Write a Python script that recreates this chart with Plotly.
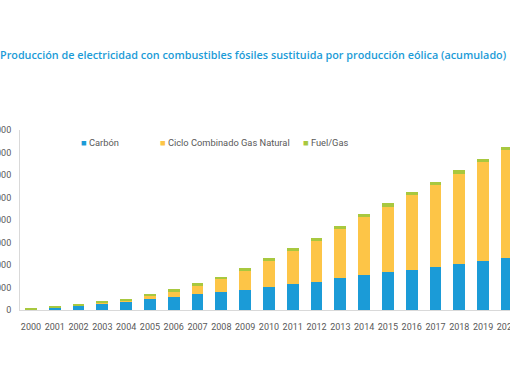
import plotly.graph_objects as go

years = [str(y) for y in range(2000, 2021)]
carbon = [1000, 5500, 9500, 15000, 19000, 24500, 29500, 36000, 40500, 45500, 52000,
          57000, 63000, 71000, 77000, 84000, 89000, 95000, 101500, 109000, 115000]
ccgt = [1000, 700, 900, 1800, 3000, 8000, 12500, 19500, 29000, 42000, 58000,
        74000, 91000, 109500, 129000, 146000, 166000, 183500, 201500, 219000, 240500]
fuel = [700, 900, 1100, 1800, 2200, 3000, 3700, 3900, 4500, 5300, 5600,
        5900, 6100, 6400, 6600, 6700, 6900, 7000, 7200, 7400, 7700]
series_names = ["Carbón", "Ciclo Combinado Gas Natural", "Fuel/Gas"]
series_colors = ["#1b9bd7", "#fdc547", "#a8c83f"]
y_tickvals = [0, 50000, 100000, 150000, 200000, 250000, 300000, 350000, 400000]
y_ticktext = ["0", "50.000", "100.000", "150.000", "200.000", "250.000", "300.000", "350.000", "400.000"]
title_text = "Producción de electricidad con combustibles fósiles sustituida por producción eólica (acumulado)"

fig = go.Figure()
for name, vals, col in zip(series_names, [carbon, ccgt, fuel], series_colors):
    fig.add_trace(go.Bar(x=years, y=vals, name=name, marker=dict(color=col, line=dict(width=0)),
                         width=0.5, showlegend=False))

legend_x = [0.12, 0.282, 0.573]
for name, col, lx in zip(series_names, series_colors, legend_x):
    fig.add_annotation(xref="paper", yref="paper", x=lx, y=0.928, xanchor="left", yanchor="middle",
                       showarrow=False,
                       text=f"<span style='color:{col}'>■</span> {name}",
                       font=dict(family="Roboto", size=9.3, color="#595959"))

fig.update_layout(
    width=510, height=382,
    margin=dict(l=20, r=0, t=130, b=72, autoexpand=False),
    paper_bgcolor="white", plot_bgcolor="white",
    barmode="stack",
    bargap=0.5,
    title=dict(text=title_text, x=0.0, xanchor="left", xref="container", y=1 - 55 / 382, yref="container",
               yanchor="middle", pad=dict(l=0, r=0, t=0, b=0),
               font=dict(family="Open Sans", size=10.8, color="#1b9bd7", weight=600)),
    xaxis=dict(range=[-0.46, 20.13], showgrid=False, showline=True, linecolor="#d9d9d9",
               linewidth=1, ticks="", ticklabelstandoff=8,
               tickfont=dict(family="Roboto", size=9, color="#595959"),
               automargin=False, fixedrange=True),
    yaxis=dict(range=[0, 400000], tickvals=y_tickvals, ticktext=y_ticktext, showgrid=False,
               showline=True, linecolor="#d9d9d9", linewidth=1, ticks="", zeroline=False,
               ticklabelstandoff=6, fixedrange=True,
               tickfont=dict(family="Roboto", size=9, color="#595959"), automargin=False),
)
fig.write_html("out.html", config={"displayModeBar": False},
               post_script="document.body.style.margin='0';document.body.style.padding='0';")
